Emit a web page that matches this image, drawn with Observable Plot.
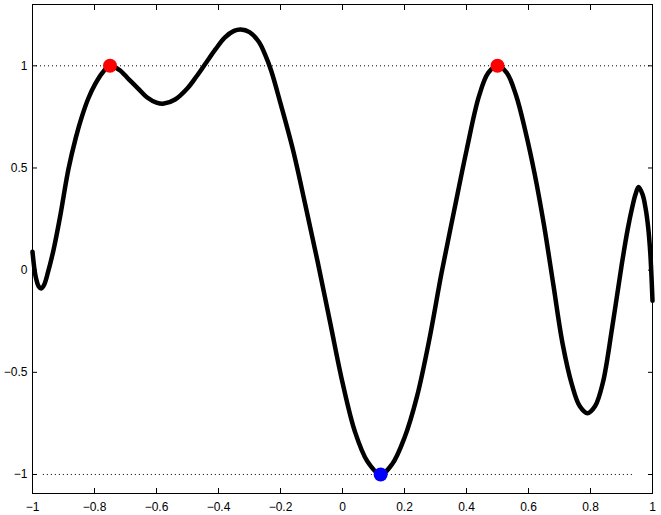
<!DOCTYPE html>
<html>
<head>
<meta charset="utf-8">
<script src="https://cdn.jsdelivr.net/npm/d3@7"></script>
<script src="https://cdn.jsdelivr.net/npm/@observablehq/plot@0.6"></script>
<style>
  html, body { margin: 0; padding: 0; background: #fff; }
</style>
</head>
<body>
<div id="chart"></div>
<script>
// Curve samples
const curveX = [-1.000, -0.990, -0.980, -0.972, -0.962, -0.950, -0.932, -0.910, -0.884, -0.860,
  -0.841, -0.820, -0.798, -0.775, -0.750, -0.720, -0.690, -0.660, -0.630, -0.600,
  -0.576, -0.540, -0.500, -0.470, -0.440, -0.410, -0.380, -0.350, -0.328, -0.300,
  -0.270, -0.250, -0.230, -0.200, -0.160, -0.120, -0.080, -0.040, 0.000, 0.040,
  0.080, 0.123, 0.160, 0.200, 0.240, 0.280, 0.320, 0.360, 0.400, 0.440,
  0.470, 0.500, 0.530, 0.560, 0.590, 0.620, 0.650, 0.680, 0.710, 0.740,
  0.765, 0.790, 0.815, 0.840, 0.870, 0.900, 0.920, 0.935, 0.945, 0.955,
  0.968, 0.978, 0.986, 0.993, 1.000];
const curveY = [0.090, -0.030, -0.080, -0.090, -0.070, -0.010, 0.100, 0.270, 0.495, 0.650,
  0.750, 0.840, 0.910, 0.965, 1.000, 0.980, 0.935, 0.890, 0.845, 0.820,
  0.815, 0.835, 0.890, 0.950, 1.015, 1.080, 1.138, 1.171, 1.178, 1.165,
  1.118, 1.056, 0.976, 0.816, 0.590, 0.320, 0.040, -0.255, -0.550, -0.790,
  -0.935, -1.000, -0.950, -0.820, -0.620, -0.340, -0.010, 0.290, 0.585, 0.850,
  0.965, 1.000, 0.965, 0.855, 0.680, 0.470, 0.220, -0.070, -0.360, -0.560,
  -0.665, -0.700, -0.665, -0.550, -0.280, 0.020, 0.200, 0.310, 0.370, 0.407,
  0.370, 0.300, 0.210, 0.080, -0.150];

// Highlighted extrema
const maxX = [-0.75, 0.5];
const maxY = [1, 1];
const minX = [0.123];
const minY = [-1];

// Dotted reference levels
const upperLevel = 1;
const upperSpan = [-1, 1];
const lowerLevel = -1;
const lowerSpan = [-0.965, 0.935];

// Axes
const xDomain = [-1, 1];
const yDomain = [-1.093, 1.3];
const xTicks = [-1, -0.8, -0.6, -0.4, -0.2, 0, 0.2, 0.4, 0.6, 0.8, 1];
const yTicks = [-1, -0.5, 0, 0.5, 1];

const curve = curveX.map((x, i) => ({x, y: curveY[i]}));
const maxima = maxX.map((x, i) => ({x, y: maxY[i]}));
const minima = minX.map((x, i) => ({x, y: minY[i]}));
const refs = [
  {x1: upperSpan[0], x2: upperSpan[1], y: upperLevel},
  {x1: lowerSpan[0], x2: lowerSpan[1], y: lowerLevel}
];
const fmt = d3.format("~g");

const chart = Plot.plot({
  width: 661,
  height: 515,
  marginLeft: 32,
  marginRight: 9,
  marginTop: 4,
  marginBottom: 22,
  style: {fontFamily: "'Liberation Sans', Arial, sans-serif", fontSize: "12px", background: "#fff", color: "#000"},
  x: {domain: xDomain, label: null},
  y: {domain: yDomain, label: null},
  marks: [
    Plot.ruleY(refs, {x1: "x1", x2: "x2", y: "y", stroke: "black", strokeWidth: 1, strokeDasharray: "1,3"}),
    Plot.line(curve, {x: "x", y: "y", stroke: "black", strokeWidth: 4.5, curve: "catmull-rom"}),
    Plot.dot(maxima, {x: "x", y: "y", r: 7, fill: "#ff0000", stroke: "none"}),
    Plot.dot(minima, {x: "x", y: "y", r: 7, fill: "#0000ff", stroke: "none"}),
    Plot.axisX(xTicks, {anchor: "bottom", tickSize: -5, tickPadding: 14, tickFormat: fmt, fill: "black", stroke: "black", label: null}),
    Plot.axisX(xTicks, {anchor: "top", tickSize: -5, tickFormat: () => "", stroke: "black", label: null}),
    Plot.axisY(yTicks, {anchor: "left", tickSize: -5, tickPadding: 10, tickFormat: fmt, fill: "black", stroke: "black", label: null}),
    Plot.axisY(yTicks, {anchor: "right", tickSize: -5, tickFormat: () => "", stroke: "black", label: null}),
    Plot.frame({stroke: "black", strokeWidth: 1})
  ]
});
document.getElementById("chart").appendChild(chart);
</script>
</body>
</html>
